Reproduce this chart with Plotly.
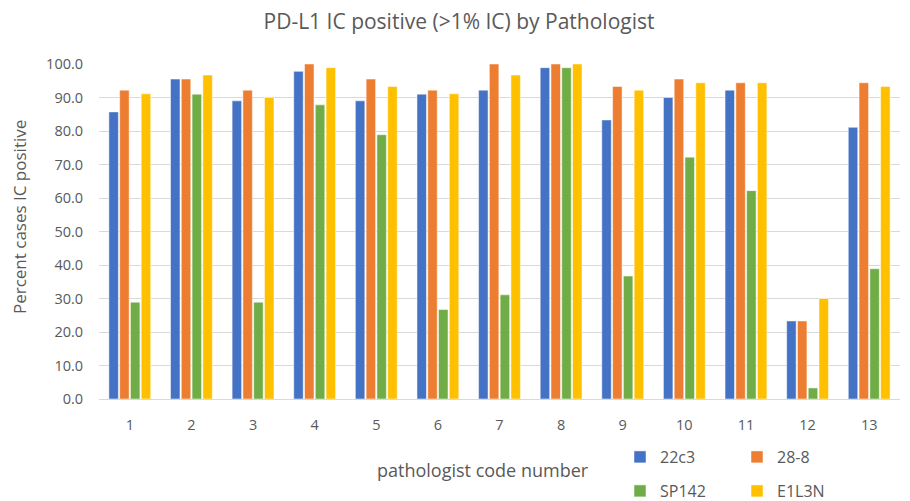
import plotly.graph_objects as go

categories = [str(i) for i in range(1, 14)]
s_22c3 = [85.7, 95.5, 89.0, 97.8, 89.0, 91.0, 92.2, 98.9, 83.3, 90.0, 92.2, 23.3, 81.1]
s_28_8 = [92.2, 95.5, 92.2, 100.0, 95.5, 92.2, 100.0, 100.0, 93.3, 95.5, 94.4, 23.3, 94.4]
s_sp142 = [28.9, 91.0, 28.9, 87.8, 78.9, 26.7, 31.1, 98.9, 36.7, 72.2, 62.2, 3.3, 38.9]
s_e1l3n = [91.1, 96.7, 90.0, 98.9, 93.3, 91.1, 96.7, 100.0, 92.2, 94.4, 94.4, 30.0, 93.3]

series = [
    ("22c3", s_22c3, "#4472C4", "legend"),
    ("28-8", s_28_8, "#ED7D31", "legend"),
    ("SP142", s_sp142, "#70AD47", "legend2"),
    ("E1L3N", s_e1l3n, "#FFC000", "legend2"),
]

fig = go.Figure()
for name, vals, color, leg in series:
    fig.add_trace(go.Bar(x=categories, y=vals, name=name, marker_color=color,
                         marker_line=dict(color="white", width=0.5), legend=leg))

font_family = "Open Sans, Liberation Sans, sans-serif"
txt = "#595959"
W, H = 902, 493
leg_common = dict(orientation="h", xref="container", yref="container",
                  xanchor="left", yanchor="middle", entrywidth=72, entrywidthmode="pixels",
                  font=dict(size=16, color=txt, family=font_family),
                  bgcolor="rgba(0,0,0,0)", itemwidth=30)
fig.update_layout(
    width=W, height=H,
    paper_bgcolor="white", plot_bgcolor="white",
    margin=dict(l=91, r=10, t=56, b=102, autoexpand=False),
    title=dict(text="PD-L1 IC positive (>1% IC) by Pathologist", x=0.5, xanchor="center",
               y=1 - 14/H, yanchor="middle", yref="container",
               font=dict(family=font_family, size=21, color=txt)),
    font=dict(family=font_family, color=txt, size=14),
    barmode="group", bargap=0.3, bargroupgap=0.12,
    xaxis=dict(showline=True, linecolor="#d9d9d9", linewidth=1,
               ticks="outside", ticklen=13, tickcolor="rgba(0,0,0,0)",
               tickfont=dict(size=14.5, color=txt)),
    yaxis=dict(range=[0, 100], dtick=10, tickformat=".1f", showgrid=True, gridcolor="#d9d9d9",
               gridwidth=1, zeroline=False, ticks="outside", ticklen=12,
               tickcolor="rgba(0,0,0,0)", tickfont=dict(size=14.5, color=txt)),
    legend=dict(x=612/W, y=1 - 449/H, **leg_common),
    legend2=dict(x=612/W, y=1 - 483/H, **leg_common),
    annotations=[
        dict(text="pathologist code number", xref="paper", yref="paper", x=0.479, y=-0.212,
             xanchor="center", yanchor="middle", showarrow=False,
             font=dict(size=18, color=txt, family=font_family)),
        dict(text="Percent cases IC positive", xref="paper", yref="paper", x=-0.0999, y=0.543,
             xanchor="center", yanchor="middle", showarrow=False, textangle=-90,
             font=dict(size=17, color=txt, family=font_family)),
    ],
)

fig.write_html("out.html")
